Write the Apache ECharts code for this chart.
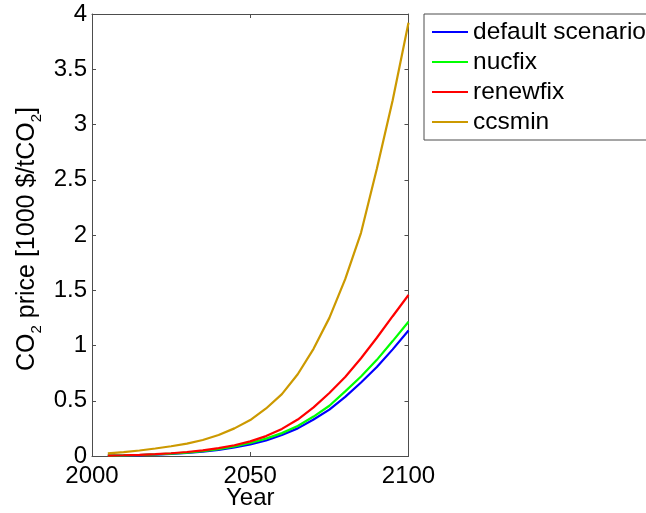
<!DOCTYPE html>
<html>
<head>
<meta charset="utf-8">
<script src="https://cdn.jsdelivr.net/npm/echarts@6/dist/echarts.min.js"></script>
<style>
  html, body { margin: 0; padding: 0; background: #fff; }
  #chart { width: 646px; height: 513px; }
</style>
</head>
<body>
<div id="chart"></div>
<script>
// Model years (5-year steps)
const years = [2005, 2010, 2015, 2020, 2025, 2030, 2035, 2040, 2045, 2050,
               2055, 2060, 2065, 2070, 2075, 2080, 2085, 2090, 2095, 2100];

// CO2 price per scenario, in 1000 $/tCO2
const defaultScenario = [0.003, 0.005, 0.008, 0.012, 0.019, 0.028, 0.040, 0.055, 0.077, 0.105,
                         0.140, 0.190, 0.250, 0.330, 0.420, 0.535, 0.665, 0.805, 0.965, 1.135];
const nucfix          = [0.004, 0.006, 0.009, 0.014, 0.021, 0.031, 0.044, 0.062, 0.086, 0.118,
                         0.157, 0.207, 0.272, 0.357, 0.455, 0.585, 0.720, 0.870, 1.040, 1.215];
const renewfix        = [0.004, 0.007, 0.011, 0.017, 0.025, 0.036, 0.051, 0.071, 0.097, 0.132,
                         0.180, 0.245, 0.330, 0.440, 0.570, 0.715, 0.885, 1.070, 1.265, 1.457];
const ccsmin          = [0.024, 0.035, 0.050, 0.068, 0.088, 0.112, 0.145, 0.190, 0.250, 0.325,
                         0.430, 0.560, 0.740, 0.970, 1.250, 1.600, 2.020, 2.600, 3.220, 3.920];

const seriesNames  = ['default scenario', 'nucfix', 'renewfix', 'ccsmin'];
const seriesValues = [defaultScenario, nucfix, renewfix, ccsmin];
const seriesColors = ['#0000ff', '#00ff00', '#ff0000', '#cc9900'];

const xTicks = { min: 2000, max: 2100, interval: 50 };
const yTicks = { min: 0, max: 4, interval: 0.5 };

const FONT = 'Liberation Sans, Arial, Helvetica, sans-serif';
const AXIS_COLOR = '#4d4d4d';

function pairs(values) {
  return years.map((y, i) => [y, values[i]]);
}

const boxAxis = (extra) => Object.assign({
  axisLine: { show: true, onZero: false, lineStyle: { color: AXIS_COLOR, width: 1 } },
  axisTick: { show: true, inside: true, length: 4, lineStyle: { color: AXIS_COLOR } },
  splitLine: { show: false }
}, extra);

const chart = echarts.init(document.getElementById('chart'), null, { renderer: 'canvas' });

chart.setOption({
  animation: false,
  backgroundColor: '#ffffff',
  grid: { left: 92, top: 14, width: 316.5, height: 442, containLabel: false, outerBoundsMode: 'none' },
  xAxis: [
    boxAxis({
      type: 'value', position: 'bottom',
      min: xTicks.min, max: xTicks.max, interval: xTicks.interval,
      axisLabel: { color: '#000', fontFamily: FONT, fontSize: 24, margin: 8,
                   formatter: (v) => String(v) },
      name: 'Year', nameLocation: 'middle', nameGap: 30, nameMoveOverlap: false,
      nameTextStyle: { color: '#000', fontFamily: FONT, fontSize: 24 }
    }),
    boxAxis({
      type: 'value', position: 'top',
      min: xTicks.min, max: xTicks.max, interval: xTicks.interval,
      axisLabel: { show: false }
    })
  ],
  yAxis: [
    boxAxis({
      type: 'value', position: 'left',
      min: yTicks.min, max: yTicks.max, interval: yTicks.interval,
      axisLabel: { color: '#000', fontFamily: FONT, fontSize: 24, margin: 5 },
      name: '{a|CO}{s|2}{a| price [1000 $/tCO}{s|2}{a|]}',
      nameLocation: 'middle', nameRotate: 90, nameGap: 52, nameMoveOverlap: false,
      nameTextStyle: {
        color: '#000', fontFamily: FONT, fontSize: 25,
        padding: [0, 8, 0, 0],
        rich: {
          a: { color: '#000', fontFamily: FONT, fontSize: 25, lineHeight: 25, verticalAlign: 'top' },
          s: { color: '#000', fontFamily: FONT, fontSize: 15, lineHeight: 15, verticalAlign: 'top', padding: [14, 0, 0, 0] }
        }
      }
    }),
    boxAxis({
      type: 'value', position: 'right',
      min: yTicks.min, max: yTicks.max, interval: yTicks.interval,
      axisLabel: { show: false }
    })
  ],
  legend: {
    left: 424, top: 14,
    orient: 'vertical',
    padding: [5, 30, 5, 8],
    itemGap: 4,
    icon: 'rect',
    itemWidth: 36, itemHeight: 2,
    borderColor: AXIS_COLOR, borderWidth: 1,
    backgroundColor: '#fff',
    textStyle: { color: '#000', fontFamily: FONT, fontSize: 24.5, lineHeight: 26 },
    data: seriesNames
  },
  series: seriesNames.map((name, i) => ({
    name: name,
    type: 'line',
    data: pairs(seriesValues[i]),
    symbol: 'none',
    smooth: false,
    color: seriesColors[i],
    lineStyle: { color: seriesColors[i], width: 2.2 },
    clip: true
  }))
});
</script>
</body>
</html>
